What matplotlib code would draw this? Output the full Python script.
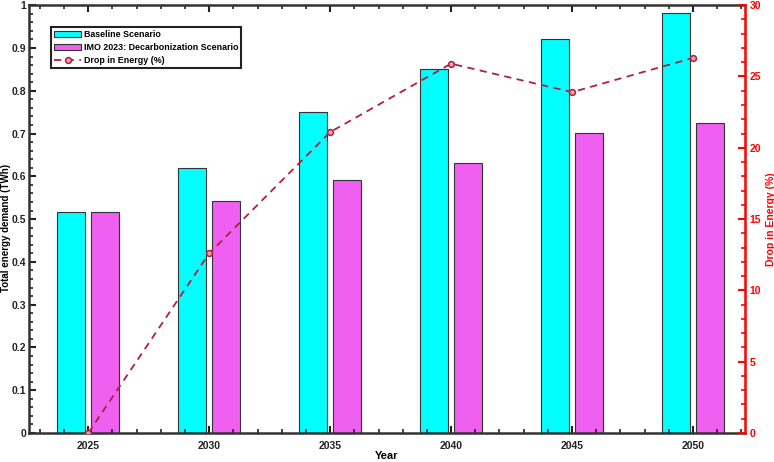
import matplotlib.pyplot as plt
import numpy as np
from matplotlib.ticker import MultipleLocator

plt.rcParams['font.family'] = ['Liberation Sans', 'DejaVu Sans']
plt.rcParams['font.weight'] = 'bold'

# Data
years = [2025, 2030, 2035, 2040, 2045, 2050]
baseline = [0.516, 0.619, 0.750, 0.850, 0.922, 0.982]
imo_2023 = [0.516, 0.542, 0.591, 0.631, 0.702, 0.724]
drop_pct = [0.0, 12.6, 21.1, 25.9, 23.9, 26.3]

fig = plt.figure(figsize=(7.74, 4.62), dpi=100)
ax = fig.add_axes([0.0375, 0.0628, 0.925, 0.926])

x = np.array(years, dtype=float)
b1 = ax.bar(x - 0.7, baseline, width=1.15, color='#00ffff', edgecolor='#333333',
            linewidth=0.8, label='Baseline Scenario')
b2 = ax.bar(x + 0.7, imo_2023, width=1.15, color='#f060f0', edgecolor='#333333',
            linewidth=0.8, label='IMO 2023: Decarbonization Scenario')

ax.set_xlim(2022.55, 2052.15)
ax.set_ylim(0, 1)
ax.set_xticks(years)
ax.xaxis.set_minor_locator(MultipleLocator(1))
ax.yaxis.set_minor_locator(MultipleLocator(0.02))
ax.set_yticks(np.arange(0, 1.01, 0.1))
ax.set_yticklabels(['0'] + ['%.1f' % v for v in np.arange(0.1, 0.95, 0.1)] + ['1'])
ax.tick_params(axis='both', which='both', direction='in', labelsize=7.5, colors='#222222')
ax.tick_params(axis='x', which='both', top=True, pad=5.5)
ax.tick_params(which='major', length=5, width=1.5)
ax.tick_params(which='minor', length=3, width=1.2)
ax.tick_params(axis='y', which='both', right=False, pad=2)
for s in ['left', 'bottom', 'top']:
    ax.spines[s].set_linewidth(1.8)
    ax.spines[s].set_color('#333333')
ax.set_xlabel('Year', fontsize=8, fontweight='bold', labelpad=0.5)
ax.set_ylabel('Total energy demand (TWh)', fontsize=7, fontweight='bold')
ax.yaxis.set_label_coords(-0.0255, 0.48)

ax2 = ax.twinx()
ln, = ax2.plot(years, drop_pct, color='#b0203c', linewidth=1.3,
               marker='o', markersize=4.2, markerfacecolor='#f0a0a8',
               markeredgecolor='#b0203c', markeredgewidth=1.1, dashes=(4, 3),
               label='Drop in Energy (%)')
ax2.set_ylim(0, 30)
ax2.yaxis.set_major_locator(MultipleLocator(5))
ax2.yaxis.set_minor_locator(MultipleLocator(1))
ax2.tick_params(axis='y', which='both', direction='in', colors='red', labelsize=7.5)
ax2.tick_params(which='major', length=5, width=1.5)
ax2.tick_params(which='minor', length=3, width=1.2)
ax2.spines['right'].set_color('red')
ax2.spines['right'].set_linewidth(1.8)
for s in ['left', 'bottom', 'top']:
    ax2.spines[s].set_visible(False)
ax2.set_ylabel('Drop in Energy (%)', color='red', fontsize=7.5, fontweight='bold', labelpad=3)

leg = ax.legend([b1, b2, ln], [b1.get_label(), b2.get_label(), ln.get_label()],
                loc='upper left', bbox_to_anchor=(0.025, 0.96), fontsize=6.4,
                fancybox=False, edgecolor='#222222', framealpha=1,
                handlelength=3.0, borderpad=0.35, labelspacing=0.45, handletextpad=0.3)
leg.get_frame().set_linewidth(1.5)

fig.savefig('out.png', dpi=100)
